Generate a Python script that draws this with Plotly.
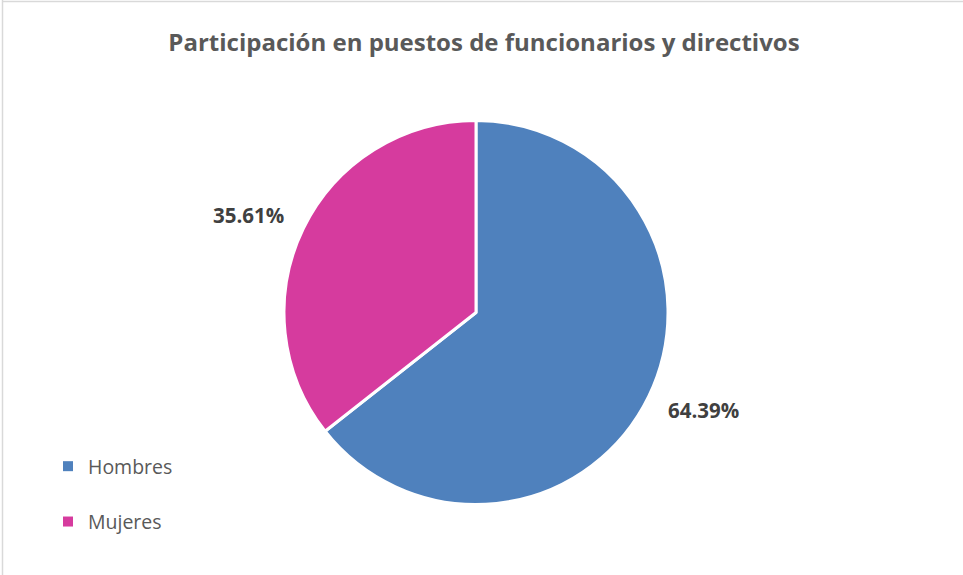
import math
import plotly.graph_objects as go

categories = ["Hombres", "Mujeres"]
values = [64.39, 35.61]
colors = ["#4F81BD", "#D63B9E"]
title_text = "Participación en puestos de funcionarios y directivos"

W, H = 963, 575
cx, cy, r = 476, 312.5, 192

fig = go.Figure()
fig.add_trace(go.Pie(
    labels=categories, values=values, sort=False, direction="clockwise",
    rotation=0, marker=dict(colors=colors, line=dict(color="white", width=3)),
    textinfo="none", hoverinfo="label+percent", showlegend=False,
    domain=dict(x=[(cx - r) / W, (cx + r) / W], y=[1 - (cy + r) / H, 1 - (cy - r) / H]),
))

# legend entries
for cat, col in zip(categories, colors):
    fig.add_trace(go.Scatter(x=[None], y=[None], mode="markers", name=cat,
                             legendgroup=cat,
                             marker=dict(symbol="square", size=10, color=col)))

# outside labels placed along the mid-angle of each slice
total = sum(values)
cum = 0
annotations = []
kx, ky = 1.32, 1.16
for v in values:
    mid = (cum + v / 2) / total * 2 * math.pi
    cum += v
    px = cx + kx * r * math.sin(mid)
    py = cy - ky * r * math.cos(mid)
    annotations.append(dict(x=px / W, y=1 - py / H, xref="paper", yref="paper",
                            xanchor="center", yanchor="middle",
                            text=f"<b>{v:.2f}%</b>", showarrow=False,
                            font=dict(size=20.5, color="#404040", family="Open Sans")))

fig.update_layout(
    width=W, height=H,
    margin=dict(l=0, r=0, t=0, b=0),
    paper_bgcolor="white", plot_bgcolor="white",
    title=dict(text=f"<b>{title_text}</b>", x=484 / W, xanchor="center",
               y=1 - 43 / H, yanchor="middle",
               font=dict(size=24, color="#595959", family="Open Sans")),
    xaxis=dict(visible=False), yaxis=dict(visible=False),
    legend=dict(x=48 / W, y=1 - 447 / H, xanchor="left", yanchor="top",
                tracegroupgap=27, font=dict(size=19.5, color="#595959", family="Open Sans"),
                bgcolor="rgba(0,0,0,0)"),
    annotations=annotations,
    shapes=[
        dict(type="line", xref="paper", yref="paper", x0=2.5 / W, x1=2.5 / W, y0=0, y1=1,
             line=dict(color="#D9D9D9", width=1.5)),
        dict(type="line", xref="paper", yref="paper", x0=2.5 / W, x1=1, y0=1 - 1.5 / H, y1=1 - 1.5 / H,
             line=dict(color="#D9D9D9", width=1.5)),
    ],
)

fig.write_html("out.html", config={"displayModeBar": False},
               post_script="document.body.style.margin='0';")
